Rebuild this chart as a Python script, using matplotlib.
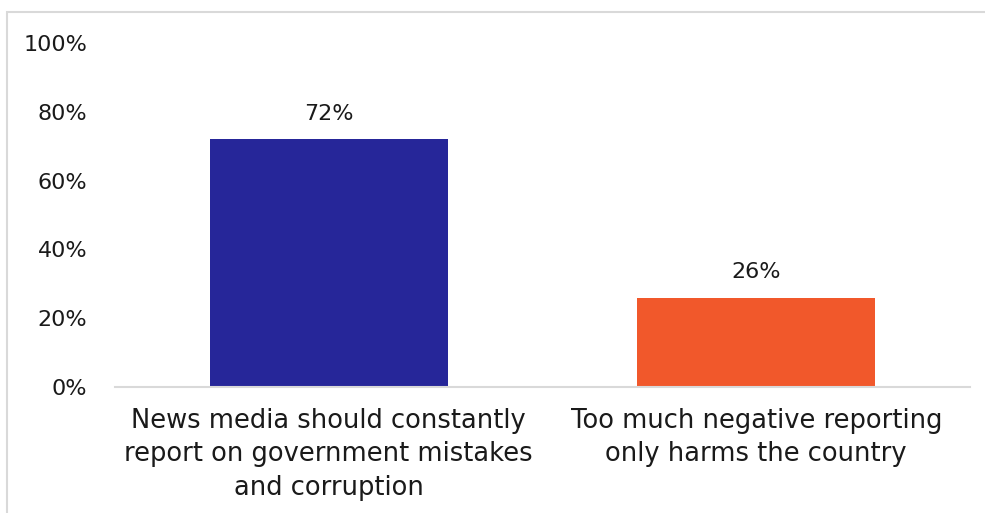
import matplotlib
matplotlib.use("Agg")
import matplotlib.pyplot as plt
from matplotlib.patches import Rectangle
from matplotlib.ticker import FuncFormatter

# data
categories = ["News media should constantly\nreport on government mistakes\nand corruption",
              "Too much negative reporting\nonly harms the country"]
values = [72, 26]
bar_colors = ["#262699", "#F1582B"]
y_ticks = [0, 20, 40, 60, 80, 100]

plt.rcParams['font.family'] = ['DejaVu Sans']

fig = plt.figure(figsize=(9.85, 5.13), dpi=100)
ax = fig.add_axes([0.1168, 0.2456, 0.868, 0.6706])

# light frame round the chart
fig.patches.append(Rectangle((7 / 985, -0.01), 1.0, (513 - 12) / 513 + 0.01,
                             transform=fig.transFigure, fill=False,
                             edgecolor="#d9d9d9", linewidth=1.5))

x = range(len(categories))
bars = ax.bar(x, values, width=0.556, color=bar_colors)

for b, v in zip(bars, values):
    ax.text(b.get_x() + b.get_width() / 2, v + 4.5, f"{v}%",
            ha="center", va="bottom", fontsize=16, color="#1a1a1a")

ax.set_xlim(-0.5, 1.5)
ax.set_ylim(0, 100)
ax.set_yticks(y_ticks)
ax.yaxis.set_major_formatter(FuncFormatter(lambda v, p: f"{v:.0f}%"))
ax.set_xticks(list(x))
ax.set_xticklabels(categories, fontsize=18.5, linespacing=1.38, color="#1a1a1a")

ax.tick_params(axis="y", length=0, pad=20, labelsize=16, labelcolor="#1a1a1a")
ax.tick_params(axis="x", length=0, pad=15)

for s in ["top", "right", "left"]:
    ax.spines[s].set_visible(False)
ax.spines["bottom"].set_color("#d9d9d9")
ax.spines["bottom"].set_linewidth(1.5)

plt.savefig("out.png", dpi=100)
